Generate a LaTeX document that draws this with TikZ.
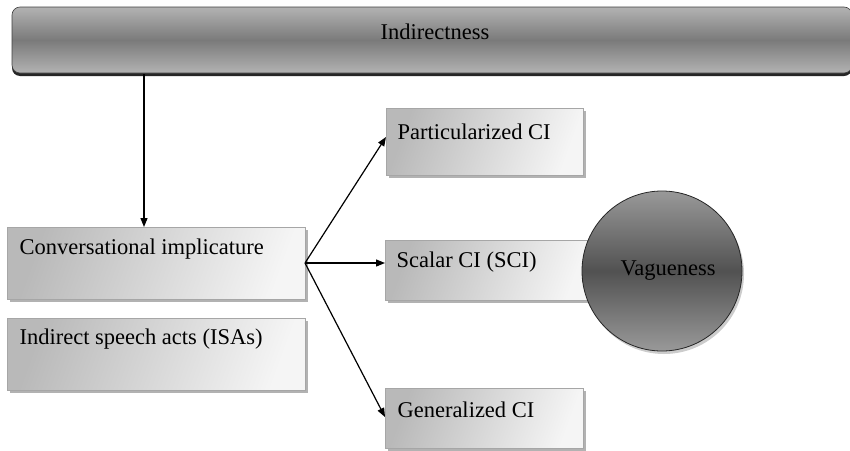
\documentclass[tikz,border=0pt]{standalone}
\usepackage{fontspec}
\setmainfont{Liberation Serif}
\usetikzlibrary{shadows,arrows.meta}
\begin{document}
\begin{tikzpicture}[x=1pt,y=-1pt,
  every node/.style={font=\fontsize{22.5}{26}\selectfont},
  conbox/.style={draw=gray!70, line width=0.8pt, left color=gray!55, right color=gray!8,
    shading angle=70, drop shadow={shadow xshift=3pt, shadow yshift=-3pt, fill=gray!60, opacity=1}},
  link/.style={-{Triangle[length=9pt,width=7pt]}, line width=1.2pt}]
\useasboundingbox (0,0) rectangle (850,450);
% banner across the top
\shade[top color=black!30, bottom color=black!30, middle color=black!52, rounded corners=8pt,
  drop shadow={shadow xshift=0pt, shadow yshift=-3pt, fill=gray!30!black, opacity=1}]
  (12,7) rectangle (852,73);
\draw[gray!50!black, rounded corners=8pt, line width=0.6pt] (12,7) rectangle (852,73);
\node (top) at (435,32) {Indirectness};
\coordinate (topfoot) at (144,74);
% left column
\node[conbox, minimum width=298pt, minimum height=72pt, anchor=north west] (ci) at (7,227) {};
\node[anchor=west] at (16,249) {Conversational implicature};
\node[conbox, minimum width=298pt, minimum height=72pt, anchor=north west] (isa) at (7,318) {};
\node[anchor=west] at (16,339) {Indirect speech acts (ISAs)};
% right column
\node[conbox, minimum width=197pt, minimum height=67pt, anchor=north west] (pci) at (386,108) {};
\node[anchor=west] at (394,132) {Particularized CI};
\node[conbox, minimum width=205pt, minimum height=60pt, anchor=north west] (sci) at (385,240) {};
\node[anchor=west] at (393,262) {Scalar CI (SCI)};
\node[conbox, minimum width=198pt, minimum height=60pt, anchor=north west] (gci) at (385,388) {};
\node[anchor=west] at (394,410) {Generalized CI};
% circle
\shade[top color=black!40, bottom color=black!40, middle color=black!68,
  drop shadow={shadow xshift=2pt, shadow yshift=-3pt, fill=gray!40, opacity=1}]
  (662,271) circle (80);
\draw[gray!30!black, line width=0.8pt] (662,271) circle (80);
\node (vag) at (668,271) {Vagueness};
% connectors
\coordinate (fork) at (305,263);
\draw[link] (topfoot) -- (144,227);
\draw[link] (fork) -- (386,137);
\draw[link] (fork) -- (385,263);
\draw[link] (fork) -- (385,417);
\end{tikzpicture}
\end{document}
